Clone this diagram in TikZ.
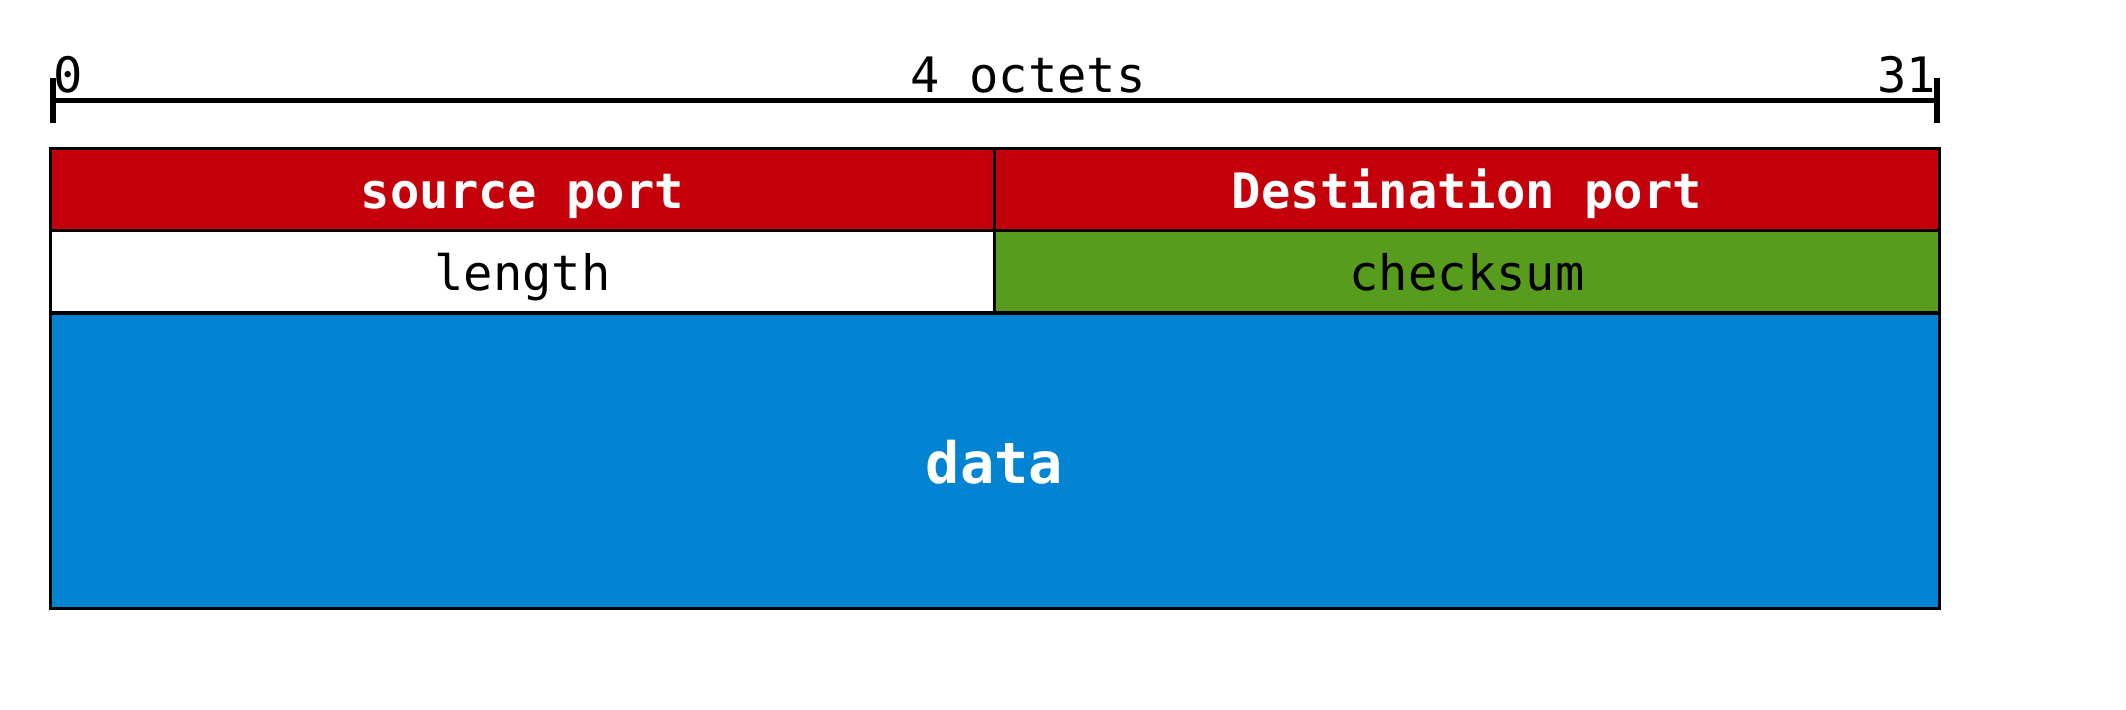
\documentclass[tikz,border=0pt]{standalone}
\usepackage{fontspec}
\setmonofont{DejaVu Sans Mono}
\usepackage{tikz}
\usetikzlibrary{positioning}

\definecolor{portred}{HTML}{C4000B}
\definecolor{sumgreen}{HTML}{589C1E}
\definecolor{datablue}{HTML}{0284D3}

\begin{document}
\begin{tikzpicture}[
    x=0.5pt, y=-0.5pt,
    field/.style={draw, line width=1.5pt, inner sep=0pt, outer sep=0pt, align=center,
                  font=\ttfamily\fontsize{24.4}{28}\selectfont, text height=19pt, text depth=0pt},
    halffield/.style={field, minimum width=472.5pt, minimum height=41pt},
    redfield/.style={halffield, fill=portred, text=white, font=\ttfamily\bfseries\fontsize{24.4}{28}\selectfont},
    whitefield/.style={halffield, fill=white},
    greenfield/.style={halffield, fill=sumgreen},
    datafield/.style={field, fill=datablue, text=white, minimum width=944.5pt, minimum height=147.5pt,
                      font=\ttfamily\bfseries\fontsize{28.5}{32}\selectfont, text height=22.5pt},
    ruler/.style={line width=2.5pt},
    tickmark/.style={line width=3pt},
    rulerlabel/.style={inner sep=0pt, font=\ttfamily\fontsize{24.4}{28}\selectfont}
]
\useasboundingbox (0,0) rectangle (2126,709);

% ruler
\coordinate (bit0)  at (52.7, 100);
\coordinate (bit31) at (1936.7, 100);
\draw[ruler] (bit0) -- (bit31);
\draw[tickmark] (bit0) ++(0,-22) -- ++(0,45);
\draw[tickmark] (bit31) ++(0,-22) -- ++(0,45);
\node[rulerlabel, anchor=base west] (zero)   at (52.7, 92)   {0};
\node[rulerlabel, anchor=base east] (last)   at (1936.7, 92) {31};
\node[rulerlabel, anchor=base]      (octets) at (1028, 92)   {4 octets};

% header fields
\node[redfield]   (srcport)  at (522.5, 189)   {source port};
\node[redfield]   (dstport)  at (1467, 189)    {Destination port};
\node[whitefield] (length)   at (522.5, 271.5) {length};
\node[greenfield] (checksum) at (1467, 271.5)  {checksum};
\node[datafield]  (data)     at (994.5, 460.5) {data};
\end{tikzpicture}
\end{document}
